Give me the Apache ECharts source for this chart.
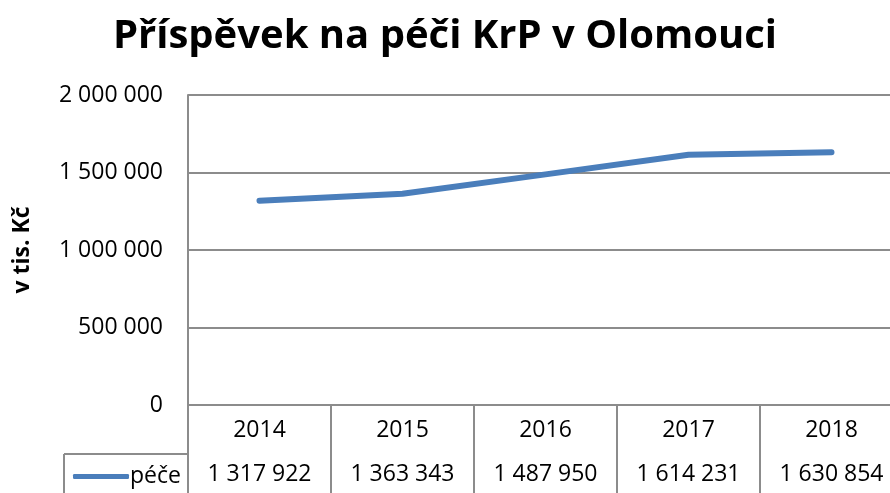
<!DOCTYPE html>
<html><head><meta charset="utf-8">
<script src="https://cdn.jsdelivr.net/npm/echarts@6/dist/echarts.min.js"></script>
<style>html,body{margin:0;padding:0;background:#fff}#c{width:890px;height:493px}</style>
</head><body><div id="c"></div>
<script>
const categories = ['2014','2015','2016','2017','2018'];
const seriesName = 'péče';
const values = [1317922, 1363343, 1487950, 1614231, 1630854];
const yTicks = [0, 500000, 1000000, 1500000, 2000000];

function fmt(v){ return String(v).replace(/\B(?=(\d{3})+(?!\d))/g, ' '); }
const FONT = 'Open Sans';
const GRAY = '#8c8c8c';
const FS = 23;
const chart = echarts.init(document.getElementById('c'));
chart.setOption({
  animation:false,
  textStyle:{fontFamily:FONT},
  title:{text:'Příspěvek na péči KrP v Olomouci',left:'center',top:12,
    textStyle:{fontFamily:FONT,fontWeight:'bold',fontSize:40,color:'#000'}},
  legend:{data:[seriesName],left:68,top:460,itemWidth:56,itemHeight:5,itemGap:4,icon:'roundRect',
    textStyle:{fontFamily:FONT,fontSize:FS,color:'#000',padding:[0,0,0,-4]}},
  grid:[{left:188,top:95,width:715,height:310,outerBoundsMode:'none'},
        {left:188,top:454,width:715,height:60,outerBoundsMode:'none'}],
  xAxis:[{type:'category',gridIndex:0,data:categories,boundaryGap:true,
      axisLine:{lineStyle:{color:GRAY,width:2}},
      axisTick:{show:true,interval:0,length:88,lineStyle:{color:GRAY,width:2}},
      axisLabel:{fontFamily:FONT,fontSize:FS,color:'#000',margin:14}},
    {type:'category',gridIndex:1,position:'top',data:values.map(fmt),boundaryGap:true,
      axisLine:{show:true,lineStyle:{color:GRAY,width:2}},
      axisTick:{show:false},
      axisLabel:{inside:true,fontFamily:FONT,fontSize:FS,color:'#000',margin:9,verticalAlign:'top'}}],
  yAxis:[{type:'value',gridIndex:0,min:0,max:2000000,interval:500000,
      name:'v tis. Kč',nameLocation:'middle',nameGap:154,nameRotate:90,
      nameTextStyle:{fontFamily:FONT,fontWeight:'bold',fontSize:FS,color:'#000'},
      axisLine:{show:true,lineStyle:{color:GRAY,width:2}},
      axisTick:{show:false},
      splitLine:{lineStyle:{color:GRAY,width:2}},
      axisLabel:{fontFamily:FONT,fontSize:FS,color:'#000',margin:25,formatter:fmt}},
    {type:'value',gridIndex:1,show:false}],
  graphic:[
    {type:'line',shape:{x1:64,y1:454,x2:188,y2:454},style:{stroke:GRAY,lineWidth:2}},
    {type:'line',shape:{x1:64,y1:454,x2:64,y2:493},style:{stroke:GRAY,lineWidth:2}}
  ],
  series:[{name:seriesName,type:'line',xAxisIndex:0,yAxisIndex:0,data:values,
    showSymbol:false,symbol:'none',lineStyle:{color:'#4a7ebb',width:6,cap:'round',join:'round'},
    itemStyle:{color:'#4a7ebb'}}]
});
</script></body></html>
